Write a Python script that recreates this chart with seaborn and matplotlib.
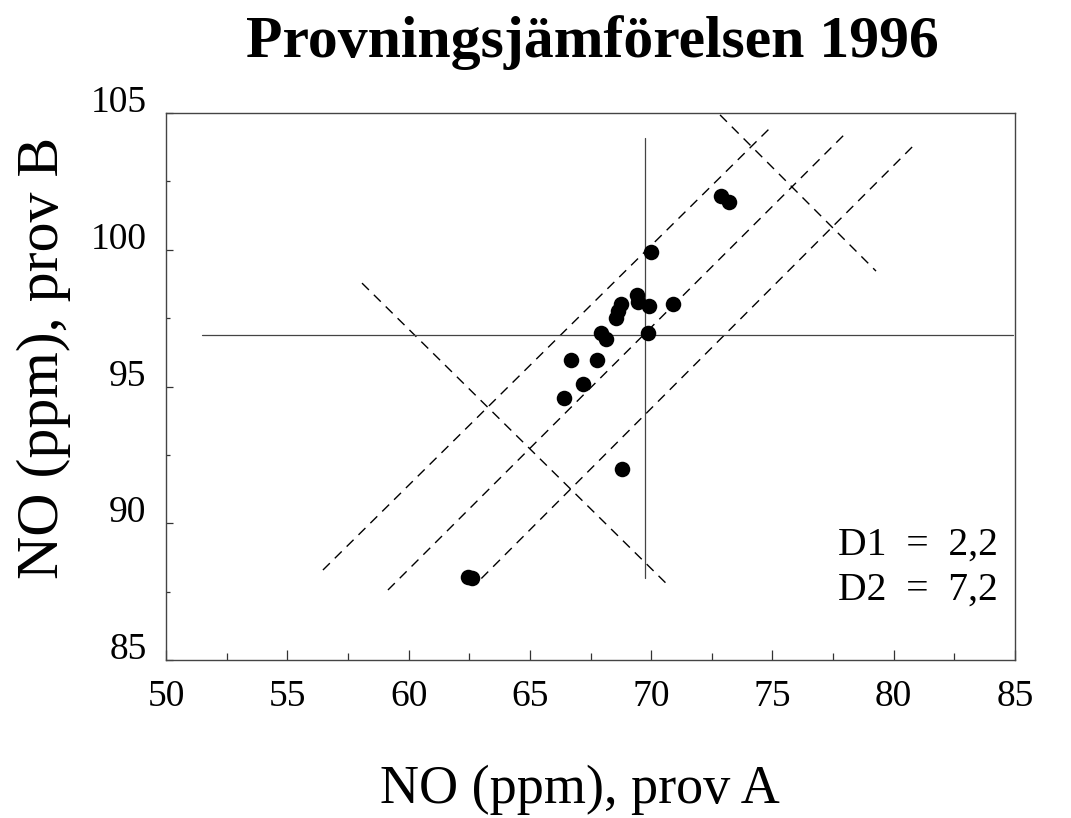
import matplotlib
matplotlib.use('Agg')
import matplotlib.pyplot as plt
import matplotlib.transforms as mtransforms
from matplotlib.ticker import MultipleLocator
import seaborn as sns
import pandas as pd

# NO results, sample A (x) and sample B (y)
prov_a = [72.9, 73.2, 70.0, 69.4, 69.45, 69.9, 68.75, 68.65, 68.55, 70.9, 69.85,
          67.95, 68.15, 66.7, 67.75, 67.2, 66.4, 68.8, 62.45, 62.6]
prov_b = [101.95, 101.75, 99.9, 98.35, 98.1, 97.95, 98.0, 97.75, 97.5, 98.0, 96.97,
          96.95, 96.75, 95.97, 95.97, 95.1, 94.57, 92.0, 88.02, 88.0]

# medians (solid cross)
median_a = 69.74
median_b = 96.88
vline_y = [88.0, 104.1]
hline_x = [51.5, 84.9]

# dashed limit lines (start, end)
diag_lines = {
    'upper': ([56.47, 74.9], [88.29, 104.45]),
    'mid': ([59.15, 78.11], [87.56, 104.34]),
    'lower': ([63.0, 80.92], [87.98, 103.9]),
}
perp_lines = {
    'left': ([58.08, 70.69], [98.78, 87.74]),
    'right': ([72.84, 79.27], [104.93, 99.22]),
}
d1_text = 'D1  =  2,2'
d2_text = 'D2  =  7,2'

df = pd.DataFrame({'A': prov_a, 'B': prov_b})

sns.set_theme(style='ticks')
plt.rcParams['font.family'] = ['Liberation Serif', 'DejaVu Serif']
plt.rcParams['text.color'] = 'black'
plt.rcParams['xtick.labelcolor'] = 'black'
plt.rcParams['ytick.labelcolor'] = 'black'

fig = plt.figure(figsize=(10.71, 8.18), dpi=100)
ax = fig.add_axes([166/1071, 1-660/818, (1015-166)/1071, (660-113)/818])

for xs, ys in list(diag_lines.values()) + list(perp_lines.values()):
    ax.plot(xs, ys, color='black', lw=1.0, ls=(0, (7, 5)), zorder=2)

ax.plot([median_a, median_a], vline_y, color='#444444', lw=0.9, zorder=2)
ax.plot(hline_x, [median_b, median_b], color='#444444', lw=0.9, zorder=2)

sns.scatterplot(data=df, x='A', y='B', ax=ax, color='black', s=125,
                edgecolor='black', linewidth=0, zorder=3)

ax.set_xlim(50, 85)
ax.set_ylim(85, 105)
ax.xaxis.set_major_locator(MultipleLocator(5))
ax.xaxis.set_minor_locator(MultipleLocator(2.5))
ax.yaxis.set_major_locator(MultipleLocator(5))
ax.yaxis.set_minor_locator(MultipleLocator(2.5))
ax.tick_params(axis='x', which='major', direction='in', length=7, width=0.9,
               labelsize=27, pad=14, color='#333333', labelcolor='black')
ax.tick_params(axis='x', which='minor', direction='in', length=5, width=0.9, color='#333333')
ax.tick_params(axis='y', which='major', direction='in', length=5, width=0.9,
               labelsize=27, pad=14, color='#333333', labelcolor='black')
ax.tick_params(axis='y', which='minor', direction='in', length=3, width=0.9, color='#333333')
for sp in ax.spines.values():
    sp.set_color('#444444')
    sp.set_linewidth(1.0)

# y tick labels sit a little above their ticks in the original
offset = mtransforms.ScaledTranslation(0, 14/100, fig.dpi_scale_trans)
for lab in ax.get_yticklabels():
    lab.set_transform(lab.get_transform() + offset)

ax.set_xlabel('')
ax.set_ylabel('')

fig.text(838/1071, 1-545/818, d1_text, fontsize=28.5, va='center', ha='left')
fig.text(838/1071, 1-590/818, d2_text, fontsize=28.5, va='center', ha='left')

fig.text(592/1071, 1-43/818, 'Provningsjämförelsen 1996', ha='center', va='center',
         fontsize=43, fontweight='bold')
fig.text(580/1071, 1-790/818, 'NO (ppm), prov A', ha='center', va='center', fontsize=39)
fig.text(44/1071, 1-358/818, 'NO (ppm), prov B', ha='center', va='center', fontsize=43,
         rotation=90)

fig.savefig('out.png', dpi=100)
